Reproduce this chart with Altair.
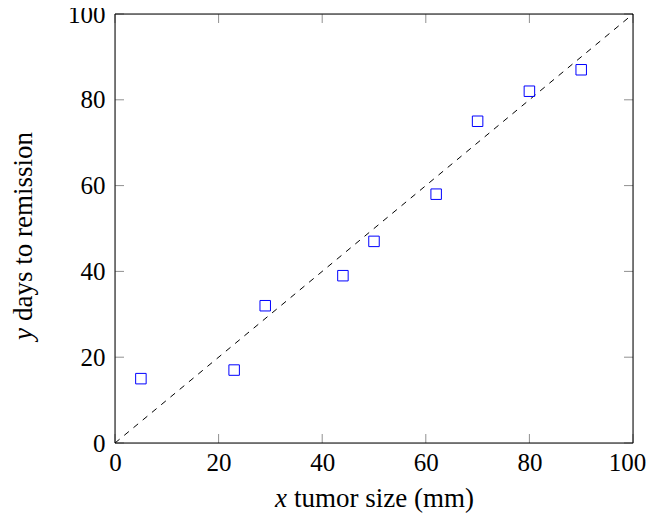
import altair as alt
import pandas as pd

# Data
tumor_size = [5, 23, 29, 44, 50, 62, 70, 80, 90]
days_to_remission = [15, 17, 32, 39, 47, 58, 75, 82, 87]
diag_x = [0, 100]
diag_y = [0, 100]
tick_values = [0, 20, 40, 60, 80, 100]

W, H = 518, 429
TL = 9  # tick length
FONT = "Liberation Serif"

pts = pd.DataFrame({"x": tumor_size, "y": days_to_remission})
diag = pd.DataFrame({"x": diag_x, "y": diag_y})
ticks = pd.DataFrame({"t": tick_values})

xs = alt.Scale(domain=[0, 100], nice=False, zero=False)
ys = alt.Scale(domain=[0, 100], nice=False, zero=False)

xaxis = alt.Axis(values=tick_values, ticks=False, tickSize=0, domain=False, grid=False,
                 title=None, labelFont=FONT, labelFontSize=25, labelColor="black",
                 labelPadding=7, labelFlush=False,
                 labelOffset={"condition": {"test": "datum.value == 100", "value": -6},
                              "value": 0})
yaxis = alt.Axis(values=tick_values, ticks=False, tickSize=0, domain=False, grid=False,
                 title=None, labelFont=FONT, labelFontSize=25, labelColor="black",
                 labelPadding=10, labelFlush=False)

line = alt.Chart(diag).mark_line(color="black", strokeDash=[6, 6], strokeWidth=1).encode(
    x=alt.X("x:Q", scale=xs, axis=xaxis),
    y=alt.Y("y:Q", scale=ys, axis=yaxis),
)

points = alt.Chart(pts).mark_point(shape="square", filled=False, color="#0000ff",
                                   size=110, strokeWidth=1, opacity=1).encode(
    x=alt.X("x:Q", scale=xs, axis=xaxis),
    y=alt.Y("y:Q", scale=ys, axis=yaxis),
)

tick_color = "#909090"
top_ticks = alt.Chart(ticks).mark_rule(color=tick_color, strokeWidth=1).encode(
    x=alt.X("t:Q", scale=xs, axis=xaxis), y=alt.value(0), y2=alt.value(TL))
bot_ticks = alt.Chart(ticks).mark_rule(color=tick_color, strokeWidth=1).encode(
    x=alt.X("t:Q", scale=xs, axis=xaxis), y=alt.value(H - TL), y2=alt.value(H))
left_ticks = alt.Chart(ticks).mark_rule(color=tick_color, strokeWidth=1).encode(
    y=alt.Y("t:Q", scale=ys, axis=yaxis), x=alt.value(0), x2=alt.value(TL))
right_ticks = alt.Chart(ticks).mark_rule(color=tick_color, strokeWidth=1).encode(
    y=alt.Y("t:Q", scale=ys, axis=yaxis), x=alt.value(W - TL), x2=alt.value(W))

frame = alt.Chart(pd.DataFrame({"a": [0]})).mark_rect(
    fillOpacity=0, stroke="black", strokeWidth=1).encode(
    x=alt.value(0), x2=alt.value(W), y=alt.value(0), y2=alt.value(H))

TFS = 27
XT_BASE = 493
xt_var = alt.Chart(pd.DataFrame({"s": ["x"]})).mark_text(
    font=FONT, fontSize=TFS, fontStyle="italic", align="right", baseline="alphabetic",
    color="black").encode(text="s:N", x=alt.value(172), y=alt.value(XT_BASE))
xt_rest = alt.Chart(pd.DataFrame({"s": ["tumor size (mm)"]})).mark_text(
    font=FONT, fontSize=TFS, align="left", baseline="alphabetic",
    color="black").encode(text="s:N", x=alt.value(179), y=alt.value(XT_BASE))

YT_BASE = -83
yt_var = alt.Chart(pd.DataFrame({"s": ["y"]})).mark_text(
    font=FONT, fontSize=TFS, fontStyle="italic", align="right", baseline="alphabetic",
    angle=270, color="black").encode(text="s:N", x=alt.value(YT_BASE), y=alt.value(314))
yt_rest = alt.Chart(pd.DataFrame({"s": ["days to remission"]})).mark_text(
    font=FONT, fontSize=TFS, align="left", baseline="alphabetic",
    angle=270, color="black").encode(text="s:N", x=alt.value(YT_BASE), y=alt.value(307))

chart = alt.layer(
    top_ticks, bot_ticks, left_ticks, right_ticks, line, points, frame,
    xt_var, xt_rest, yt_var, yt_rest,
).properties(
    width=W, height=H,
    autosize=alt.AutoSizeParams(type="none"),
    padding={"left": 107, "top": 6, "right": 13, "bottom": 72},
).configure_view(
    strokeWidth=0
).configure(background="white")

chart.save("out.html", embed_options={"renderer": "svg", "actions": False})
